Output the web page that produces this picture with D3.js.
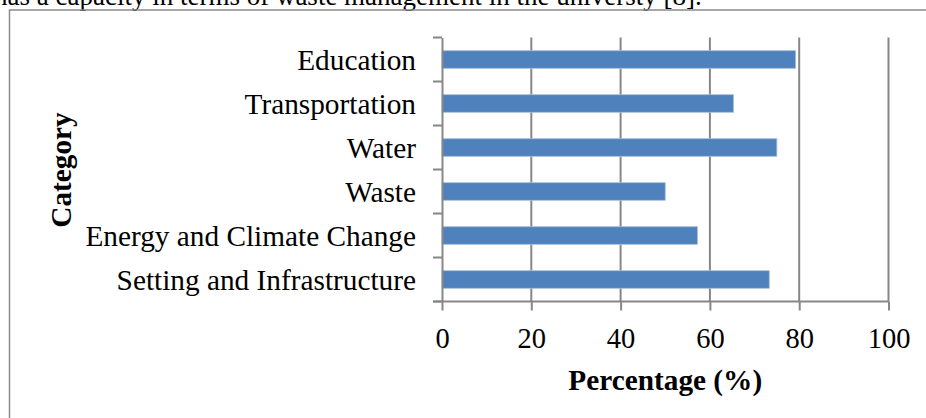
<!DOCTYPE html>
<html>
<head>
	<meta charset="utf-8">
	<title>Category percentages</title>
	<style>
		html, body {
			margin: 0;
			background: white;
		}
		svg {
			display: block;
			font-family: "Liberation Serif", "Times New Roman", serif;
		}
	</style>
</head>
<body>

<svg class="chart" width="926" height="418"></svg>

<script src="https://d3js.org/d3.v7.min.js"></script>
<script>

// data, top to bottom as drawn
var categories = [
	'Education',
	'Transportation',
	'Water',
	'Waste',
	'Energy and Climate Change',
	'Setting and Infrastructure'
]
var percentages = [79.2, 65.3, 75.0, 50.0, 57.2, 73.3]
var xTicks = [0, 20, 40, 60, 80, 100]

var captionText = 'has a capacity in terms of waste management in the universty [8].'

var cfg = {
	left: 442,
	right: 888.5,
	top: 37.5,
	bottom: 301.5,
	tickSize: 28.5,
	labelSize: 29.3,
	grey: '#878787',
	barColor: '#4f81bd',
}

var svg = d3.select('.chart')

// the bit of body text that peeks in above the figure
svg.append('text')
	.attr('x', -6)
	.attr('y', 4.5)
	.attr('font-size', 27)
	.text(captionText)

// figure frame (runs off the right and bottom of the picture)
svg.append('rect')
	.attr('x', 9.5)
	.attr('y', 10)
	.attr('width', 1000)
	.attr('height', 500)
	.attr('fill', 'none')
	.attr('stroke', '#8a8a8a')
	.attr('stroke-width', 1.5)

var x = d3.scaleLinear()
	.domain([0, 100])
	.range([cfg.left, cfg.right])

var y = d3.scaleBand()
	.domain(categories)
	.range([cfg.top, cfg.bottom])
	.paddingInner(0.6)
	.paddingOuter(0.3)

// vertical gridlines
svg.append('g')
	.selectAll('line')
	.data(xTicks.slice(1))
	.enter().append('line')
		.attr('x1', function(d) { return x(d) })
		.attr('x2', function(d) { return x(d) })
		.attr('y1', cfg.top)
		.attr('y2', cfg.bottom)
		.attr('stroke', cfg.grey)
		.attr('stroke-width', 2)

// bars
svg.append('g')
	.selectAll('rect')
	.data(categories)
	.enter().append('rect')
		.attr('x', x(0))
		.attr('y', function(c) { return y(c) })
		.attr('width', function(c, i) { return x(percentages[i]) - x(0) })
		.attr('height', y.bandwidth())
		.attr('fill', cfg.barColor)
		.attr('stroke', '#a7c0de')
		.attr('stroke-width', 0.8)

// x axis
var xAxis = svg.append('g')
	.attr('transform', 'translate(0,' + cfg.bottom + ')')
	.call(d3.axisBottom(x).tickValues(xTicks).tickSize(9).tickPadding(16).tickSizeOuter(0))
	.attr('font-family', null)
	.attr('font-size', null)
xAxis.select('.domain')
	.attr('d', 'M' + (cfg.left - 9) + ',0H' + cfg.right)
xAxis.selectAll('line, .domain')
	.attr('stroke', cfg.grey)
	.attr('stroke-width', 2)
xAxis.selectAll('text')
	.attr('font-size', cfg.tickSize)
	.attr('fill', 'black')
	.attr('dy', '0.76em')

// y axis: labels at band centres, ticks at band edges
var yAxis = svg.append('g')
	.attr('transform', 'translate(' + cfg.left + ',0)')
	.call(d3.axisLeft(y).tickSize(0).tickPadding(26))
	.attr('font-family', null)
	.attr('font-size', null)
yAxis.select('.domain')
	.attr('stroke', cfg.grey)
	.attr('stroke-width', 2)
yAxis.selectAll('text')
	.attr('font-size', cfg.labelSize)
	.attr('fill', 'black')
	.attr('dy', '0.37em')

var edges = categories.map(function(c) { return y(c) - y.step() * y.paddingInner() / 2 })
	.concat([cfg.bottom])
edges[0] = cfg.top
yAxis.selectAll('.edge')
	.data(edges)
	.enter().append('line')
		.attr('class', 'edge')
		.attr('x1', -9)
		.attr('x2', 0)
		.attr('y1', function(d) { return d })
		.attr('y2', function(d) { return d })
		.attr('stroke', cfg.grey)
		.attr('stroke-width', 2)

// axis titles
svg.append('text')
	.attr('x', (cfg.left + cfg.right) / 2)
	.attr('y', 390)
	.attr('text-anchor', 'middle')
	.attr('font-size', cfg.labelSize)
	.attr('font-weight', 'bold')
	.text('Percentage (%)')

svg.append('text')
	.attr('transform', 'translate(71,170) rotate(-90)')
	.attr('text-anchor', 'middle')
	.attr('font-size', cfg.labelSize)
	.attr('font-weight', 'bold')
	.text('Category')

</script>

</body>
</html>
